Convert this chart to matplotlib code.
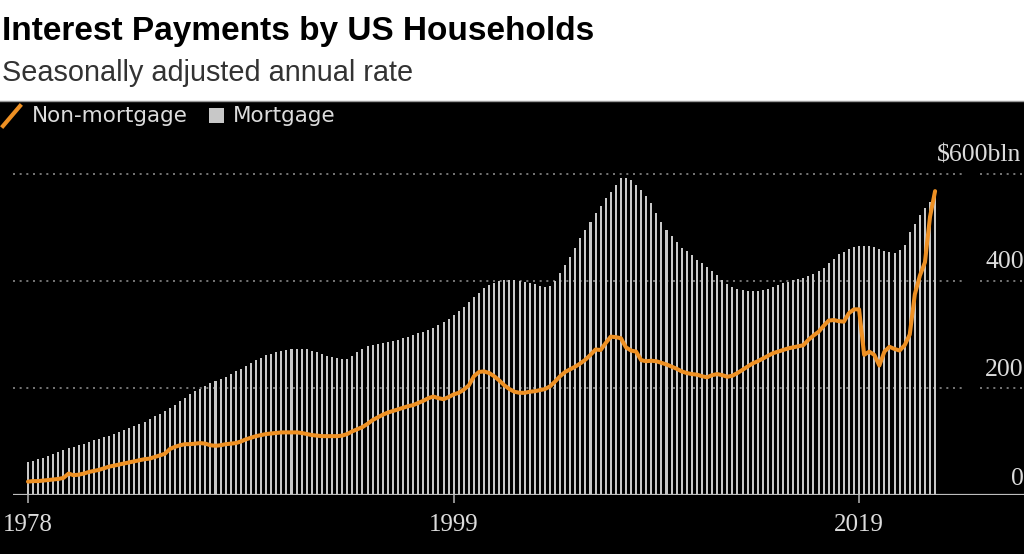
import numpy as np
import pandas as pd
import matplotlib
matplotlib.use("Agg")
import matplotlib.pyplot as plt
from matplotlib.lines import Line2D
from matplotlib.patches import Rectangle

# quarterly data, $ bln, seasonally adjusted annual rate
quarters = pd.period_range("1978Q1", "2022Q4", freq="Q")

mortgage = [
    61, 64, 67, 70,      73, 76, 80, 84,      87, 90, 93, 96,      99, 102, 105, 108,
    111, 114, 118, 121,  125, 129, 133, 137,  142, 147, 152, 157,  163, 169, 175, 181,
    188, 194, 199, 204,  209, 213, 217, 221,  226, 231, 236, 241,  247, 252, 257, 261,
    264, 267, 270, 271,  272, 273, 273, 272,  270, 267, 263, 260,  258, 256, 254, 255,
    260, 267, 273, 278,  280, 282, 284, 286,  288, 290, 293, 296,  299, 302, 305, 308,
    313, 318, 324, 329,  336, 344, 352, 360,  370, 378, 386, 393,  397, 400, 401, 401,
    401, 400, 399, 396,  394, 390, 389, 390,  400, 415, 430, 445,  462, 480, 495, 510,
    528, 540, 555, 566,  580, 592, 592, 588,  580, 570, 558, 545,  528, 510, 495, 484,
    472, 462, 456, 448,  440, 433, 426, 418,  411, 402, 394, 388,  385, 383, 382, 382,
    382, 383, 385, 388,  392, 396, 399, 402,  403, 406, 410, 414,  418, 425, 433, 442,
    450, 455, 460, 463,  465, 466, 466, 464,  460, 456, 455, 452,  458, 467, 492, 506,
    523, 536, 548, 564,
]

non_mortgage = [
    25, 26, 26, 27,      28, 29, 30, 32,      40, 37, 38, 40,      43, 45, 47, 50,
    53, 55, 57, 59,      61, 63, 65, 67,      68, 71, 74, 77,      86, 90, 93, 95,
    95, 96, 97, 96,      93, 92, 93, 95,      96, 97, 100, 104,    107, 110, 112, 114,
    115, 116, 117, 117,  117, 117, 116, 114,  112, 111, 110, 110,  110, 110, 111, 114,
    119, 123, 127, 133,  140, 145, 150, 154,  157, 160, 163, 166,  168, 172, 176, 181,
    184, 181, 179, 183,  188, 191, 197, 205,  222, 230, 231, 228,  222, 214, 205, 198,
    193, 191, 191, 193,  194, 196, 198, 203,  212, 222, 230, 235,  240, 246, 253, 262,
    272, 271, 284, 296,  295, 293, 276, 270,  268, 252, 250, 251,  250, 247, 244, 240,
    236, 231, 228, 226,  225, 222, 220, 224,  226, 224, 221, 223,  228, 234, 240, 246,
    250, 255, 260, 265,  268, 271, 274, 276,  278, 280, 290, 298,  305, 316, 326, 327,
    325, 324, 340, 347,  347, 262, 268, 262,  242, 268, 277, 273,  270, 280, 300, 375,
    410, 435, 520, 568,
]

tick_years = [1978, 1999, 2019]
y_ticks = [0, 200, 400, 600]
y_labels = ["0", "200", "400", "$600bln"]

ORANGE = "#ee9023"
BAR = "#c8c8c8"
TXT = "#dcdcdc"

W, H = 1024, 554
fig = plt.figure(figsize=(W / 100, H / 100), dpi=100, facecolor="white")
fig.add_artist(Rectangle((0, 0), 1, 453 / H, transform=fig.transFigure,
                         facecolor="black", edgecolor="none", zorder=0))
fig.add_artist(Line2D([0, 1], [453 / H, 453 / H], color="#999999", lw=1))

ax = fig.add_axes([13 / W, 59 / H, 1011 / W, 331.7 / H])
ax.set_facecolor("black")

x = np.asarray(quarters.year + (quarters.quarter - 1) / 4, dtype=float)
ax.bar(x, mortgage, width=0.1, color=BAR, zorder=2, linewidth=0)
ax.plot(x, non_mortgage, color=ORANGE, lw=2.9, zorder=3,
        solid_capstyle="round", solid_joinstyle="round")

ax.set_xlim(1978 - 15 / 20.27, 1978 + 996 / 20.27)
ax.set_ylim(0, 620)

for s in ax.spines.values():
    s.set_visible(False)

# dotted gridlines with a small break before the labels
gap_l = (965 - 13) / 1011
gap_r = (980 - 13) / 1011
for v in y_ticks[1:]:
    ax.axhline(v, xmin=0, xmax=gap_l, color="#8a8a8a", lw=1.2, ls=(0, (1.2, 2.8)), zorder=1)
    ax.axhline(v, xmin=gap_r, xmax=1, color="#8a8a8a", lw=1.2, ls=(0, (1.2, 2.8)), zorder=1)
ax.axhline(0, color="#bdbdbd", lw=1.6, zorder=4)

ax.set_yticks([])
ax.set_xticks(tick_years)
ax.set_xticklabels([str(t) for t in tick_years], family="Liberation Serif",
                   fontsize=18, color=TXT)
ax.tick_params(axis="x", length=6, width=1.2, color="#aaaaaa", pad=8, direction="out")

for v, lab in zip(y_ticks, y_labels):
    if lab.startswith("$"):
        ax.annotate(lab, xy=((937 - 13) / 1011, v), xycoords=("axes fraction", "data"),
                    xytext=(0, 9), textcoords="offset points", ha="left", va="baseline",
                    family="Liberation Serif", fontsize=18.5, color=TXT, annotation_clip=False)
    else:
        ax.annotate(lab, xy=(1.0, v), xycoords=("axes fraction", "data"),
                    xytext=(0, 7 if v == 0 else 9), textcoords="offset points",
                    ha="right", va="baseline",
                    family="Liberation Serif", fontsize=18.5, color=TXT, annotation_clip=False)

# title block
fig.text(2 / W, 1 - 40 / H, "Interest Payments by US Households", family="Liberation Sans",
         fontsize=24, fontweight="bold", color="black", va="baseline")
fig.text(2 / W, 1 - 81 / H, "Seasonally adjusted annual rate", family="Liberation Sans",
         fontsize=20.8, color="#333333", va="baseline")

# legend
fig.add_artist(Line2D([3 / W, 20 / W], [1 - 126 / H, 1 - 106 / H], color=ORANGE, lw=3))
fig.text(32 / W, 1 - 116 / H, "Non-mortgage", family="DejaVu Sans", fontsize=15.5,
         color=TXT, va="center")
fig.add_artist(Rectangle((209 / W, 1 - 123 / H), 15 / W, 15 / H, transform=fig.transFigure,
                         facecolor=BAR, edgecolor="none"))
fig.text(233 / W, 1 - 116 / H, "Mortgage", family="DejaVu Sans", fontsize=15.5,
         color=TXT, va="center")

fig.savefig("out.png", dpi=100, facecolor=fig.get_facecolor())
